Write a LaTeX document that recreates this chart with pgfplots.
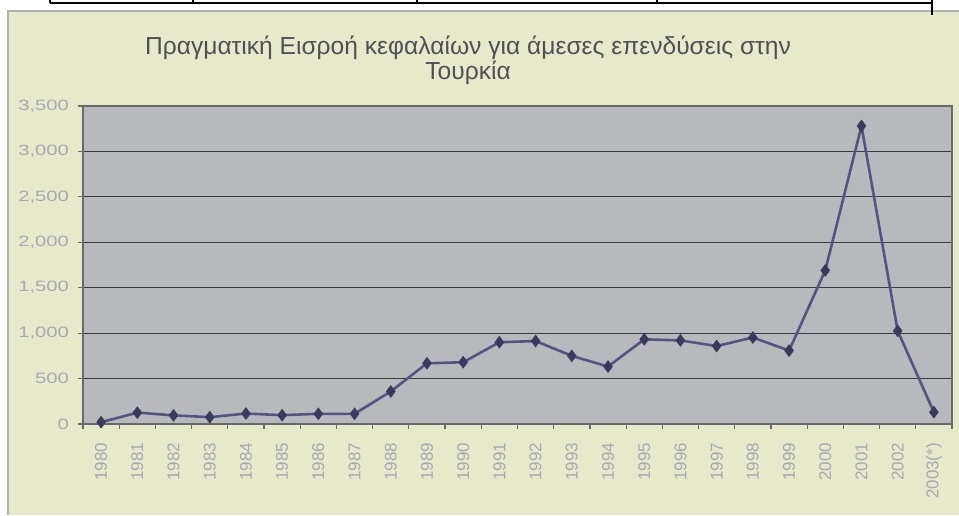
\documentclass[border=0pt]{standalone}
\usepackage{fontspec}
\setmainfont{Liberation Sans}
\newfontfamily\widefont[FakeStretch=1.35]{Liberation Sans}
\usepackage{pgfplots}
\usepackage{pgfplotstable}
\pgfplotsset{compat=1.18}

\definecolor{chartbg}{RGB}{231,233,203}
\definecolor{plotbg}{RGB}{184,185,189}
\definecolor{gridcol}{RGB}{60,60,62}
\definecolor{framecol}{RGB}{105,105,108}
\definecolor{linecol}{RGB}{84,84,130}
\definecolor{markcol}{RGB}{58,58,92}
\definecolor{labelcol}{RGB}{168,168,176}
\definecolor{titlecol}{RGB}{80,80,84}

% year index, inflow
\pgfplotstableread{
idx val
0   20
1   125
2   95
3   75
4   115
5   97
6   112
7   112
8   358
9   668
10  680
11  900
12  913
13  750
14  632
15  932
16  920
17  858
18  952
19  808
20  1690
21  3280
22  1025
23  130
}\inflow

\begin{document}
\begin{tikzpicture}
\useasboundingbox (0pt,0pt) rectangle (479.5pt,257.5pt);
\fill[white] (0pt,0pt) rectangle (479.5pt,257.5pt);
% chart area
\fill[chartbg] (4pt,0pt) rectangle (479.5pt,252pt);
\draw[gray!60, line width=0.6pt] (4pt,0pt) -- (4pt,252pt) -- (479.5pt,252pt);
% scanned table edge above the chart
\draw[black, line width=1.4pt] (25pt,256pt) -- (466pt,256pt);
\foreach \xx in {25,96.5,208.5,328.5,466}
  \draw[black, line width=0.9pt] (\xx pt,257.5pt) -- (\xx pt,256pt);
\draw[black, line width=0.9pt] (466pt,257.5pt) -- (466pt,250pt);

\node[align=center, text=titlecol, font=\fontsize{12.3}{12.5}\selectfont]
  at (234pt,227.5pt)
  {Πραγματική Εισροή κεφαλαίων για άμεσες επενδύσεις στην\\Τουρκία};

\begin{axis}[
  at={(41.5pt,45.5pt)}, anchor=south west,
  scale only axis, width=434.5pt, height=159pt,
  axis background/.style={fill=plotbg},
  axis line style={draw=framecol, line width=0.6pt},
  xmin=-0.5, xmax=23.5, ymin=0, ymax=3500,
  ytick={0,500,...,3500},
  xtick={0,...,23},
  xticklabels={1980,1981,1982,1983,1984,1985,1986,1987,1988,1989,1990,1991,
    1992,1993,1994,1995,1996,1997,1998,1999,2000,2001,2002,2003(*)},
  minor xtick={-0.5,0.5,...,23.5},
  xtick pos=bottom, ytick pos=left,
  tick align=outside,
  major tick length=2.5pt, minor tick length=2.5pt,
  major x tick style={draw=none},
  minor x tick style={draw=framecol, line width=0.6pt},
  y tick style={draw=framecol, line width=0.6pt},
  ymajorgrids, grid style={draw=gridcol, line width=0.6pt},
  /pgf/number format/assume math mode=true,
  /pgf/number format/1000 sep={,},
  yticklabel style={text=labelcol, font=\widefont\fontsize{7.5}{8}\selectfont, xshift=-1pt},
  xticklabel style={text=labelcol, font=\fontsize{8.5}{9}\selectfont, rotate=90, anchor=east},
  xticklabel shift=3.5pt,
  clip=false,
]
\addplot[color=linecol, line width=1.3pt, mark=diamond*, mark size=2.8pt,
  mark options={fill=markcol, draw=markcol, line width=0.5pt}]
  table[x=idx, y=val] {\inflow};
\end{axis}
\end{tikzpicture}
\end{document}
